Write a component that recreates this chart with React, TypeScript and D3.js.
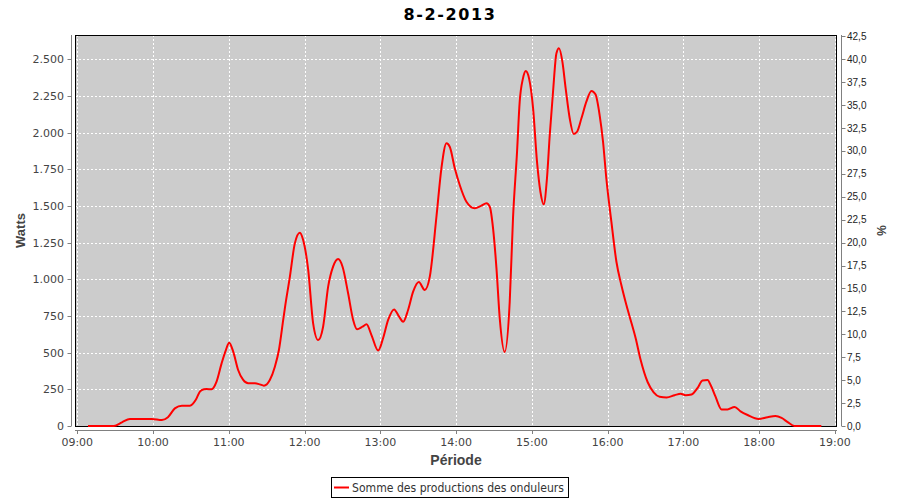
import React from "react";
import * as d3 from "d3";

// minutes after 09:00
const minutes = [
  8.5, 29, 35.4, 41.7, 59.1, 67, 71.8, 77.3, 82.9, 89.2,
  94, 97.1, 100.3, 102.4, 106.4, 110.3, 114.3, 117.7, 120.3, 123.5,
  127.4, 131.4, 135.4, 140.7, 144.6, 147.8, 152.5, 156.5, 159.7, 163.1,
  164.4, 168.4, 172.3, 176.3, 178.9, 182.9, 186.8, 190.8, 194.7, 198.7,
  202.6, 206.6, 210.1, 214.5, 218.5, 221.6, 225.9, 229.1, 233, 238.3,
  242.2, 246.2, 250.9, 254.9, 258.1, 262, 266, 270.5, 275.2, 279.2,
  284.5, 288.4, 292.4, 295, 299, 302.9, 308.2, 314.8, 320.1, 324.1,
  326.7, 329.3, 332, 334.6, 338.5, 342.5, 345.1, 348.3, 350.4,
  353, 355.2, 357.8, 361, 364.1, 366.8, 369.4, 372, 374.2, 376.8,
  379.5, 381.5, 384.2, 386.8, 390, 393.2, 395.8, 399.3, 403.2, 407.2,
  410.4, 413.7, 416.4, 419, 423, 427, 430.9, 434.9, 437.5, 442.2,
  446.2, 451.7, 456.5, 461.2, 466.8, 473.1, 477.9, 481.8, 486.5, 491.3,
  495.2, 499.2, 501.6, 505.5, 510.3, 515, 520.6, 525.3, 530.9, 539.6,
  546.7, 553, 557.8, 562.6, 568, 589.3,
];

const watts = [
  0, 0, 25, 48, 48, 41, 60, 120, 138, 138,
  180, 234, 250, 252, 250, 302, 427, 518, 568, 507,
  382, 314, 291, 291, 284, 275, 314, 404, 518, 723,
  802, 1018, 1245, 1318, 1268, 1064, 700, 586, 677, 950,
  1086, 1138, 1086, 905, 723, 659, 677, 693, 620, 514,
  598, 723, 795, 745, 711, 791, 916, 982, 927, 1018,
  1430, 1757, 1927, 1904, 1757, 1643, 1529, 1484, 1502, 1518,
  1495, 1348, 1075, 734, 505, 847, 1416, 1870, 2211,
  2370, 2420, 2370, 2166, 1802, 1597, 1511, 1689, 1984, 2279,
  2541, 2575, 2484, 2302, 2098, 1991, 2006, 2098, 2211, 2284,
  2261, 2120, 1938, 1689, 1393, 1120, 961, 825, 745, 600,
  450, 300, 230, 200, 195, 210, 220, 210, 215, 260,
  310, 313, 280, 200, 113, 113, 130, 100, 75, 48,
  60, 68, 55, 27, 0, 0,
];

const hourLabels = ["09:00", "10:00", "11:00", "12:00", "13:00", "14:00", "15:00", "16:00", "17:00", "18:00", "19:00"];
const wattTicks = [0, 250, 500, 750, 1000, 1250, 1500, 1750, 2000, 2250, 2500];
const pctTicks = [0, 2.5, 5, 7.5, 10, 12.5, 15, 17.5, 20, 22.5, 25, 27.5, 30, 32.5, 35, 37.5, 40, 42.5];

const title = "8-2-2013";
const xTitle = "Période";
const yTitle = "Watts";
const y2Title = "%";
const seriesName = "Somme des productions des onduleurs";

const W = 900, H = 500;
const plot = { left: 75, right: 837, top: 35, bottom: 426 };

const fmtW = (n: number) =>
  n < 1000 ? String(n) : `${Math.floor(n / 1000)}.${String(n % 1000).padStart(3, "0")}`;
const fmtP = (n: number) => n.toFixed(1).replace(".", ",");

export default function App() {
  const x = d3.scaleLinear().domain([-1.8, 601.7]).range([plot.left, plot.right]);
  const y = d3.scaleLinear().domain([0, 2665.7]).range([plot.bottom, plot.top]);
  const y2 = d3.scaleLinear().domain([0, 2665.7 / 62.5]).range([plot.bottom, plot.top]);

  const pts = minutes.map((m, i) => [m, watts[i]] as [number, number]);
  const line = d3
    .line<[number, number]>()
    .x((d) => x(d[0]))
    .y((d) => y(d[1]))
    .curve(d3.curveMonotoneX);

  const hourMins = hourLabels.map((_, i) => i * 60);
  const tickFont = "DejaVu Sans, sans-serif";

  return (
    <svg
      width={W}
      height={H}
      style={{ position: "absolute", left: 0, top: 0, background: "#fff" }}
      xmlns="http://www.w3.org/2000/svg"
    >
      <defs>
        <clipPath id="plotclip">
          <rect x={plot.left} y={plot.top} width={plot.right - plot.left} height={plot.bottom - plot.top + 1} />
        </clipPath>
      </defs>
      {/* title */}
      <text
        x={450}
        y={20}
        textAnchor="middle"
        fontFamily={tickFont}
        fontWeight="bold"
        fontSize={16}
        letterSpacing={1.6}
        fill="#000"
      >
        {title}
      </text>

      {/* plot background */}
      <rect
        x={plot.left}
        y={plot.top}
        width={plot.right - plot.left}
        height={plot.bottom - plot.top}
        fill="#cccccc"
      />
      {/* grid */}
      <g stroke="#ffffff" strokeWidth={1} strokeDasharray="2,2">
        {hourMins.map((m) => (
          <line key={"gx" + m} x1={Math.round(x(m)) + 0.5} x2={Math.round(x(m)) + 0.5} y1={plot.top} y2={plot.bottom} />
        ))}
        {wattTicks.map((t) => (
          <line key={"gy" + t} x1={plot.left} x2={plot.right} y1={Math.round(y(t)) + 0.5} y2={Math.round(y(t)) + 0.5} />
        ))}
      </g>
      {/* plot border */}
      <rect
        x={plot.left + 0.5}
        y={plot.top + 0.5}
        width={plot.right - plot.left - 1}
        height={plot.bottom - plot.top}
        fill="none"
        stroke="#000"
        strokeWidth={1}
      />
      {/* series */}
      <path d={line(pts) || ""} fill="none" stroke="#ff0000" strokeWidth={2} clipPath="url(#plotclip)" />

      {/* left axis */}
      <line x1={71.5} x2={71.5} y1={plot.top} y2={plot.bottom} stroke="#808080" />
      {wattTicks.map((t) => (
        <g key={"ly" + t}>
          <line x1={67.5} x2={71.5} y1={Math.round(y(t)) + 0.5} y2={Math.round(y(t)) + 0.5} stroke="#808080" />
          <text x={64} y={y(t) + 4} textAnchor="end" fontFamily={tickFont} fontSize={11} fill="#444">
            {fmtW(t)}
          </text>
        </g>
      ))}
      <text
        transform={`translate(25,${(plot.top + plot.bottom) / 2}) rotate(-90)`}
        textAnchor="middle"
        fontFamily="Liberation Sans, sans-serif"
        fontWeight="bold"
        fontSize={13}
        fill="#444"
      >
        {yTitle}
      </text>

      {/* right axis */}
      <line x1={841.5} x2={841.5} y1={plot.top} y2={plot.bottom} stroke="#808080" />
      {pctTicks.map((t) => (
        <g key={"ry" + t}>
          <line x1={841.5} x2={845.5} y1={Math.round(y2(t)) + 0.5} y2={Math.round(y2(t)) + 0.5} stroke="#808080" />
          <text x={847} y={y2(t) + 3.5} textAnchor="start" fontFamily="Liberation Sans, sans-serif" fontSize={10} fill="#222">
            {fmtP(t)}
          </text>
        </g>
      ))}
      <text
        transform={`translate(877,${(plot.top + plot.bottom) / 2}) rotate(90)`}
        textAnchor="middle"
        fontFamily="Liberation Sans, sans-serif"
        fontWeight="bold"
        fontSize={12}
        fill="#444"
      >
        {y2Title}
      </text>

      {/* bottom axis */}
      <line x1={plot.left} x2={plot.right} y1={430.5} y2={430.5} stroke="#808080" />
      {hourMins.map((m, i) => (
        <g key={"bx" + m}>
          <line x1={Math.round(x(m)) + 0.5} x2={Math.round(x(m)) + 0.5} y1={430.5} y2={434} stroke="#808080" />
          <text x={x(m)} y={446} textAnchor="middle" fontFamily={tickFont} fontSize={11} fill="#444">
            {hourLabels[i]}
          </text>
        </g>
      ))}
      <text
        x={(plot.left + plot.right) / 2}
        y={465}
        textAnchor="middle"
        fontFamily="Liberation Sans, sans-serif"
        fontWeight="bold"
        fontSize={14}
        fill="#444"
      >
        {xTitle}
      </text>

      {/* legend */}
      <rect x={331.5} y={477.5} width={237} height={20} fill="#fff" stroke="#000" strokeWidth={1} />
      <line x1={334} x2={349} y1={487.5} y2={487.5} stroke="#ff0000" strokeWidth={2} />
      <text x={352} y={492} fontFamily={tickFont} fontSize={12} fill="#333" textLength={212} lengthAdjust="spacingAndGlyphs">
        {seriesName}
      </text>
    </svg>
  );
}
